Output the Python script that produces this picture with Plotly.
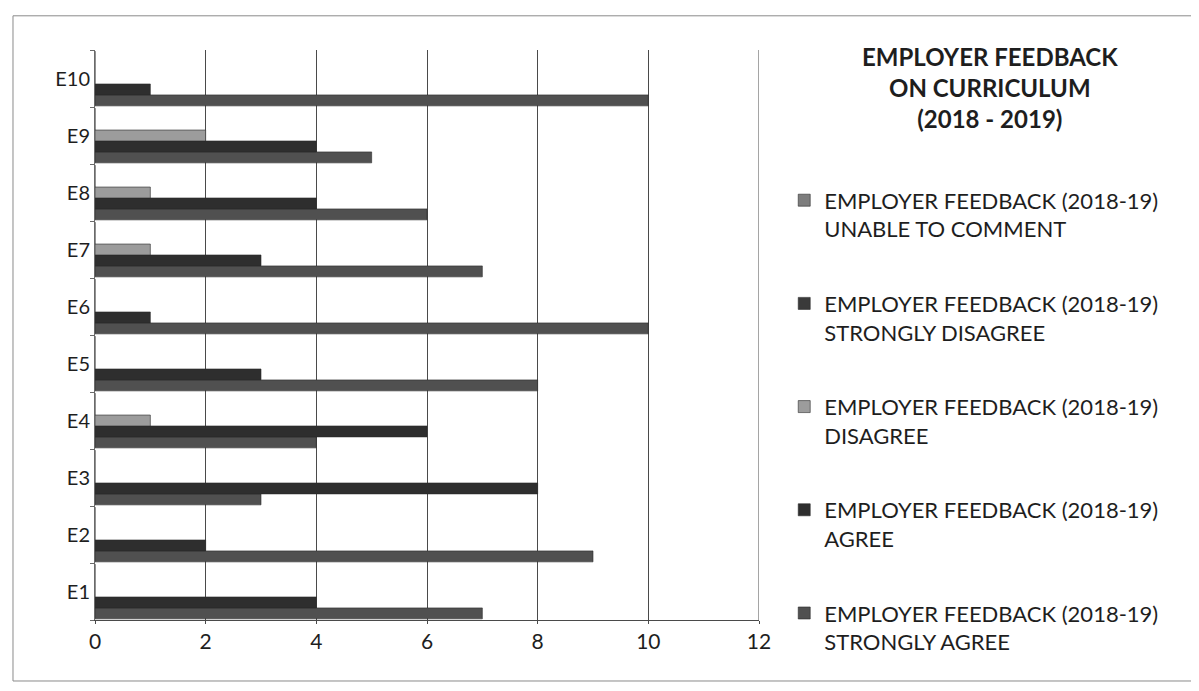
import plotly.graph_objects as go

categories = ["E1", "E2", "E3", "E4", "E5", "E6", "E7", "E8", "E9", "E10"]

strongly_agree = [7, 9, 3, 4, 8, 10, 7, 6, 5, 10]
agree = [4, 2, 8, 6, 3, 1, 3, 4, 4, 1]
disagree = [0, 0, 0, 1, 0, 0, 1, 1, 2, 0]
strongly_disagree = [0, 0, 0, 0, 0, 0, 0, 0, 0, 0]
unable_to_comment = [0, 0, 0, 0, 0, 0, 0, 0, 0, 0]

x_ticks = [0, 2, 4, 6, 8, 10, 12]

series = [
    ("EMPLOYER FEEDBACK (2018-19)<br>STRONGLY AGREE", strongly_agree, "#505050"),
    ("EMPLOYER FEEDBACK (2018-19)<br>AGREE", agree, "#2e2e2e"),
    ("EMPLOYER FEEDBACK (2018-19)<br>DISAGREE", disagree, "#9c9c9c"),
    ("EMPLOYER FEEDBACK (2018-19)<br>STRONGLY DISAGREE", strongly_disagree, "#3a3a3a"),
    ("EMPLOYER FEEDBACK (2018-19)<br>UNABLE TO COMMENT", unable_to_comment, "#7d7d7d"),
]

fig = go.Figure()

# first trace sits at the bottom of each group; legend lists it last
for i, (name, values, color) in enumerate(series):
    fig.add_trace(
        go.Bar(
            y=categories,
            x=values,
            name=name,
            orientation="h",
            legendgroup=f"g{i}",
            legendrank=len(series) - i,
            marker=dict(color=color, line=dict(color="#2a2a2a", width=0.6))
        )
    )

fig.update_layout(
    barmode="group",
    bargap=0.04,
    bargroupgap=0,
    width=1199,
    height=691,
    paper_bgcolor="white",
    plot_bgcolor="white",
    margin=dict(l=87, r=448, t=42, b=79),
    font=dict(family="Lato, Noto Sans, sans-serif", size=19, color="#1e1e1e"),
    legend=dict(
        x=1.038,
        y=0.773,
        xanchor="left",
        yanchor="top",
        traceorder="grouped",
        tracegroupgap=43,
        valign="top",
        font=dict(size=22, color="#1e1e1e")
    ),
    annotations=[
        dict(
            text="<b>EMPLOYER FEEDBACK<br>ON CURRICULUM<br>(2018 - 2019)</b>",
            xref="paper", yref="paper", x=1.348, y=1.018,
            xanchor="center", yanchor="top", showarrow=False,
            align="center", font=dict(size=24, color="#1e1e1e")
        )
    ],
    xaxis=dict(
        range=[0, 12],
        tickvals=x_ticks,
        showgrid=True,
        gridcolor="#4a4a4a",
        gridwidth=1,
        showline=True,
        linecolor="#4a4a4a",
        ticks="outside",
        ticklen=3,
        tickcolor="#4a4a4a",
        zeroline=False,
        tickfont=dict(size=21)
    ),
    yaxis=dict(
        showline=True,
        linecolor="#6a6a6a",
        ticks="outside",
        tickson="boundaries",
        ticklen=4,
        tickcolor="#6a6a6a",
        showgrid=False,
        tickfont=dict(size=20)
    ),
    shapes=[
        dict(type="line", xref="x", yref="paper", x0=12, x1=12, y0=0, y1=1,
             line=dict(color="#4a4a4a", width=1)),
        dict(type="rect", xref="paper", yref="paper", x0=-0.1235, x1=1.7,
             y0=-0.107, y1=1.06, line=dict(color="#8a8a8a", width=1))
    ]
)

fig.write_html("out.html")
